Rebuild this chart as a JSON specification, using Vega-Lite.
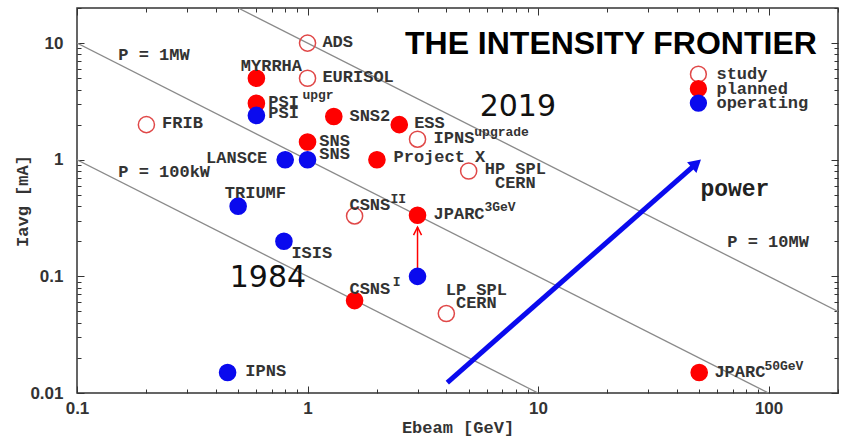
{
  "$schema": "https://vega.github.io/schema/vega-lite/v6.json",
  "width": 761,
  "height": 385,
  "autosize": {"type": "none"},
  "padding": {"left": 77, "top": 8, "right": 10, "bottom": 48},
  "background": "white",
  "config": {
    "view": {"stroke": "#333", "strokeWidth": 1.5},
    "axis": {"grid": false, "domain": false, "tickColor": "#333", "tickWidth": 1, "labelOverlap": false, "labelFlush": false}
  },
  "datasets": {
    "plines": [
      {"P": "100kW", "E": 0.1, "I": 1}, {"P": "100kW", "E": 10, "I": 0.01},
      {"P": "1MW", "E": 0.1, "I": 10}, {"P": "1MW", "E": 100, "I": 0.01},
      {"P": "10MW", "E": 0.5, "I": 20}, {"P": "10MW", "E": 200, "I": 0.05}
    ],
    "blue_arrow": [{"E": 4.04, "I": 0.0123}, {"E": 48.6, "I": 0.926}],
    "blue_head": [{"E": 48.6, "I": 0.926}],
    "red_arrow": [{"E": 3, "I": 0.115}, {"E": 3, "I": 0.264}],
    "red_head": [{"E": 3, "I": 0.264}],
    "facilities": [
      {"name": "ADS", "E": 1, "I": 10, "status": "study"},
      {"name": "EURISOL", "E": 1, "I": 5, "status": "study"},
      {"name": "MYRRHA", "E": 0.6, "I": 5, "status": "planned"},
      {"name": "PSI upgr", "E": 0.6, "I": 3.05, "status": "planned"},
      {"name": "PSI", "E": 0.6, "I": 2.4, "status": "operating"},
      {"name": "FRIB", "E": 0.2, "I": 2, "status": "study"},
      {"name": "SNS2", "E": 1.3, "I": 2.35, "status": "planned"},
      {"name": "ESS", "E": 2.5, "I": 2.0, "status": "planned"},
      {"name": "IPNS upgrade", "E": 3, "I": 1.5, "status": "study"},
      {"name": "SNS (planned)", "E": 1, "I": 1.42, "status": "planned"},
      {"name": "SNS", "E": 1, "I": 1, "status": "operating"},
      {"name": "LANSCE", "E": 0.8, "I": 1, "status": "operating"},
      {"name": "Project X", "E": 2, "I": 1, "status": "planned"},
      {"name": "HP SPL CERN", "E": 5, "I": 0.8, "status": "study"},
      {"name": "TRIUMF", "E": 0.5, "I": 0.4, "status": "operating"},
      {"name": "CSNS II", "E": 1.6, "I": 0.33, "status": "study"},
      {"name": "JPARC 3GeV", "E": 3, "I": 0.334, "status": "planned"},
      {"name": "ISIS", "E": 0.79, "I": 0.2, "status": "operating"},
      {"name": "JPARC 3GeV (now)", "E": 3, "I": 0.1, "status": "operating"},
      {"name": "CSNS I", "E": 1.6, "I": 0.062, "status": "planned"},
      {"name": "LP SPL CERN", "E": 4, "I": 0.048, "status": "study"},
      {"name": "IPNS", "E": 0.45, "I": 0.015, "status": "operating"},
      {"name": "JPARC 50GeV", "E": 50, "I": 0.015, "status": "planned"}
    ],
    "legend_keys": [
      {"status": "study", "E": 49.6, "I": 5.42},
      {"status": "planned", "E": 49.6, "I": 4.07},
      {"status": "operating", "E": 49.6, "I": 3.06}
    ],
    "legend_labels": [
      {"t": "study", "E": 59.4, "I": 5.42},
      {"t": "planned", "E": 59.4, "I": 4.07},
      {"t": "operating", "E": 59.4, "I": 3.06}
    ],
    "labels_left": [
      {"t": "ADS", "E": 1.16, "I": 10.2},
      {"t": "EURISOL", "E": 1.16, "I": 5.1},
      {"t": "PSI", "E": 0.676, "I": 3.12},
      {"t": "PSI", "E": 0.676, "I": 2.51},
      {"t": "FRIB", "E": 0.234, "I": 2.06},
      {"t": "SNS2", "E": 1.52, "I": 2.36},
      {"t": "ESS", "E": 2.9, "I": 2.06},
      {"t": "IPNS", "E": 3.52, "I": 1.53},
      {"t": "SNS", "E": 1.125, "I": 1.44},
      {"t": "SNS", "E": 1.125, "I": 1.11},
      {"t": "Project X", "E": 2.36, "I": 1.05},
      {"t": "JPARC", "E": 3.52, "I": 0.34},
      {"t": "ISIS", "E": 0.851, "I": 0.158},
      {"t": "IPNS", "E": 0.537, "I": 0.0153},
      {"t": "JPARC", "E": 58.2, "I": 0.015},
      {"t": "CSNS", "E": 1.52, "I": 0.406},
      {"t": "CSNS", "E": 1.52, "I": 0.0773},
      {"t": "P = 1MW", "E": 0.151, "I": 7.89},
      {"t": "P = 100kW", "E": 0.151, "I": 0.781},
      {"t": "P = 10MW", "E": 66.2, "I": 0.196}
    ],
    "labels_center": [
      {"t": "MYRRHA", "E": 0.697, "I": 6.35},
      {"t": "TRIUMF", "E": 0.594, "I": 0.516},
      {"t": "HP SPL", "E": 7.97, "I": 0.84},
      {"t": "CERN", "E": 7.97, "I": 0.635},
      {"t": "LP SPL", "E": 5.4, "I": 0.0765},
      {"t": "CERN", "E": 5.4, "I": 0.0592}
    ],
    "labels_right": [
      {"t": "LANSCE", "E": 0.669, "I": 1.03}
    ],
    "sups": [
      {"t": "upgr", "E": 0.95, "I": 3.58},
      {"t": "upgrade", "E": 5.29, "I": 1.74},
      {"t": "3GeV", "E": 5.85, "I": 0.39},
      {"t": "II", "E": 2.29, "I": 0.462},
      {"t": "I", "E": 2.34, "I": 0.09},
      {"t": "50GeV", "E": 95.9, "I": 0.0171}
    ],
    "power": [{"t": "power", "E": 50.6, "I": 0.558}],
    "years": [{"t": "2019", "E": 8.17, "I": 2.36}, {"t": "1984", "E": 0.673, "I": 0.0804}],
    "title": [{"t": "THE INTENSITY FRONTIER", "E": 20.7, "I": 8.05}]
  },
  "resolve": {"axis": {"x": "independent", "y": "independent"}},
  "layer": [
    {
      "data": {"name": "plines"},
      "mark": {"type": "line", "color": "#8a8a8a", "strokeWidth": 1.3, "clip": true},
      "encoding": {
        "detail": {"field": "P"},
        "x": {"field": "E", "type": "quantitative", "scale": {"type": "log", "domain": [0.1, 200], "nice": false},
          "axis": {"orient": "bottom", "values": [0.1, 1, 10, 100], "offset": -7, "tickSize": 7, "format": "~g",
            "labelFont": "Liberation Sans", "labelFontWeight": "bold", "labelFontSize": 17, "labelColor": "#333", "labelPadding": 7,
            "title": "Ebeam [GeV]", "titleFont": "Liberation Mono", "titleFontWeight": "bold", "titleFontSize": 17, "titleColor": "#333", "titlePadding": 3}},
        "y": {"field": "I", "type": "quantitative", "scale": {"type": "log", "domain": [0.01, 20], "nice": false},
          "axis": {"orient": "left", "values": [0.01, 0.1, 1, 10], "offset": -7, "tickSize": 7, "format": "~g",
            "labelFont": "Liberation Sans", "labelFontWeight": "bold", "labelFontSize": 17, "labelColor": "#333", "labelPadding": 14,
            "title": "Iavg [mA]", "titleFont": "Liberation Mono", "titleFontWeight": "bold", "titleFontSize": 17, "titleColor": "#333", "titlePadding": -2}}
      }
    },
    {
      "data": {"name": "blue_arrow"},
      "mark": {"type": "line", "color": "#0a0aee", "strokeWidth": 5},
      "encoding": {
        "x": {"field": "E", "type": "quantitative", "scale": {"type": "log", "domain": [0.1, 200], "nice": false},
          "axis": {"orient": "bottom", "values": [0.2, 0.3, 0.4, 0.5, 0.6, 0.7, 0.8, 0.9, 2, 3, 4, 5, 6, 7, 8, 9, 20, 30, 40, 50, 60, 70, 80, 90, 200], "offset": -4, "tickSize": 4, "labels": false, "title": null}},
        "y": {"field": "I", "type": "quantitative", "scale": {"type": "log", "domain": [0.01, 20], "nice": false},
          "axis": {"orient": "left", "values": [0.02, 0.03, 0.04, 0.05, 0.06, 0.07, 0.08, 0.09, 0.2, 0.3, 0.4, 0.5, 0.6, 0.7, 0.8, 0.9, 2, 3, 4, 5, 6, 7, 8, 9, 20], "offset": -4, "tickSize": 4, "labels": false, "title": null}}
      }
    },
    {
      "data": {"name": "red_arrow"},
      "mark": {"type": "line", "color": "#ff0000", "strokeWidth": 1.5},
      "encoding": {
        "x": {"field": "E", "type": "quantitative", "scale": {"type": "log", "domain": [0.1, 200], "nice": false},
          "axis": {"orient": "top", "values": [0.1, 1, 10, 100], "offset": -7, "tickSize": 7, "labels": false, "title": null}},
        "y": {"field": "I", "type": "quantitative", "scale": {"type": "log", "domain": [0.01, 20], "nice": false},
          "axis": {"orient": "right", "values": [0.01, 0.1, 1, 10], "offset": -7, "tickSize": 7, "labels": false, "title": null}}
      }
    },
    {
      "data": {"name": "blue_head"},
      "mark": {"type": "point", "shape": "triangle-up", "filled": true, "color": "#0a0aee", "size": 200, "angle": 48.7, "opacity": 1},
      "encoding": {
        "x": {"field": "E", "type": "quantitative", "scale": {"type": "log", "domain": [0.1, 200], "nice": false},
          "axis": {"orient": "top", "values": [0.2, 0.3, 0.4, 0.5, 0.6, 0.7, 0.8, 0.9, 2, 3, 4, 5, 6, 7, 8, 9, 20, 30, 40, 50, 60, 70, 80, 90, 200], "offset": -4, "tickSize": 4, "labels": false, "title": null}},
        "y": {"field": "I", "type": "quantitative", "scale": {"type": "log", "domain": [0.01, 20], "nice": false},
          "axis": {"orient": "right", "values": [0.02, 0.03, 0.04, 0.05, 0.06, 0.07, 0.08, 0.09, 0.2, 0.3, 0.4, 0.5, 0.6, 0.7, 0.8, 0.9, 2, 3, 4, 5, 6, 7, 8, 9, 20], "offset": -4, "tickSize": 4, "labels": false, "title": null}}
      }
    },
    {
      "data": {"name": "red_head"},
      "mark": {"type": "point", "shape": "M-0.5,1L0,0L0.5,1", "filled": false, "color": "#ff0000", "strokeWidth": 1.5, "size": 256, "opacity": 1},
      "encoding": {
        "x": {"field": "E", "type": "quantitative", "axis": null},
        "y": {"field": "I", "type": "quantitative", "axis": null}
      }
    },
    {
      "data": {"name": "facilities"},
      "mark": {"type": "point", "shape": "circle", "filled": true, "size": 260, "strokeWidth": 1.5, "opacity": 1},
      "encoding": {
        "x": {"field": "E", "type": "quantitative", "axis": null},
        "y": {"field": "I", "type": "quantitative", "axis": null},
        "fill": {"field": "status", "type": "nominal",
          "scale": {"domain": ["study", "planned", "operating"], "range": ["transparent", "#ff0000", "#0a0aee"]}, "legend": null},
        "stroke": {"field": "status", "type": "nominal",
          "scale": {"domain": ["study", "planned", "operating"], "range": ["#e04848", "#ff0000", "#0a0aee"]}, "legend": null}
      }
    },
    {
      "data": {"name": "legend_keys"},
      "mark": {"type": "point", "shape": "circle", "filled": true, "size": 250, "strokeWidth": 1.5, "opacity": 1},
      "encoding": {
        "x": {"field": "E", "type": "quantitative", "axis": null},
        "y": {"field": "I", "type": "quantitative", "axis": null},
        "fill": {"field": "status", "type": "nominal", "legend": null},
        "stroke": {"field": "status", "type": "nominal", "legend": null}
      }
    },
    {
      "data": {"name": "legend_labels"},
      "mark": {"type": "text", "align": "left", "baseline": "middle", "font": "Liberation Mono", "fontWeight": "bold", "fontSize": 17, "color": "#333"},
      "encoding": {
        "x": {"field": "E", "type": "quantitative", "axis": null},
        "y": {"field": "I", "type": "quantitative", "axis": null},
        "text": {"field": "t"}
      }
    },
    {
      "data": {"name": "labels_left"},
      "mark": {"type": "text", "align": "left", "baseline": "middle", "font": "Liberation Mono", "fontWeight": "bold", "fontSize": 17, "color": "#333"},
      "encoding": {
        "x": {"field": "E", "type": "quantitative", "axis": null},
        "y": {"field": "I", "type": "quantitative", "axis": null},
        "text": {"field": "t"}
      }
    },
    {
      "data": {"name": "labels_center"},
      "mark": {"type": "text", "align": "center", "baseline": "middle", "font": "Liberation Mono", "fontWeight": "bold", "fontSize": 17, "color": "#333"},
      "encoding": {
        "x": {"field": "E", "type": "quantitative", "axis": null},
        "y": {"field": "I", "type": "quantitative", "axis": null},
        "text": {"field": "t"}
      }
    },
    {
      "data": {"name": "labels_right"},
      "mark": {"type": "text", "align": "right", "baseline": "middle", "font": "Liberation Mono", "fontWeight": "bold", "fontSize": 17, "color": "#333"},
      "encoding": {
        "x": {"field": "E", "type": "quantitative", "axis": null},
        "y": {"field": "I", "type": "quantitative", "axis": null},
        "text": {"field": "t"}
      }
    },
    {
      "data": {"name": "sups"},
      "mark": {"type": "text", "align": "left", "baseline": "middle", "font": "Liberation Mono", "fontWeight": "bold", "fontSize": 13, "color": "#333"},
      "encoding": {
        "x": {"field": "E", "type": "quantitative", "axis": null},
        "y": {"field": "I", "type": "quantitative", "axis": null},
        "text": {"field": "t"}
      }
    },
    {
      "data": {"name": "power"},
      "mark": {"type": "text", "align": "left", "baseline": "middle", "font": "Liberation Mono", "fontWeight": "bold", "fontSize": 23, "color": "#222"},
      "encoding": {
        "x": {"field": "E", "type": "quantitative", "axis": null},
        "y": {"field": "I", "type": "quantitative", "axis": null},
        "text": {"field": "t"}
      }
    },
    {
      "data": {"name": "years"},
      "mark": {"type": "text", "align": "center", "baseline": "alphabetic", "font": "DejaVu Sans", "fontSize": 30, "color": "#111"},
      "encoding": {
        "x": {"field": "E", "type": "quantitative", "axis": null},
        "y": {"field": "I", "type": "quantitative", "axis": null},
        "text": {"field": "t"}
      }
    },
    {
      "data": {"name": "title"},
      "mark": {"type": "text", "align": "center", "baseline": "alphabetic", "font": "Liberation Sans", "fontWeight": "bold", "fontSize": 32, "color": "#000"},
      "encoding": {
        "x": {"field": "E", "type": "quantitative", "axis": null},
        "y": {"field": "I", "type": "quantitative", "axis": null},
        "text": {"field": "t"}
      }
    }
  ]
}
